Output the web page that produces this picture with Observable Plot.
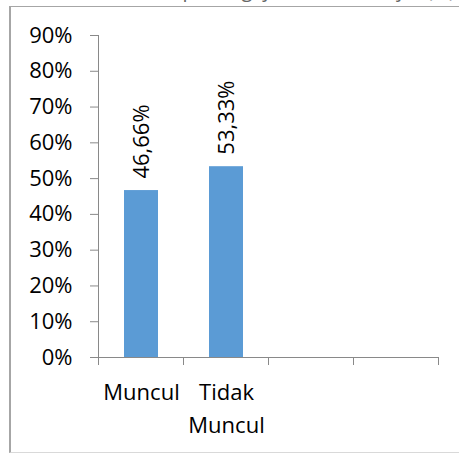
<!DOCTYPE html>
<html><head><meta charset="utf-8">
<script src="https://cdn.jsdelivr.net/npm/d3@7"></script>
<script src="https://cdn.jsdelivr.net/npm/@observablehq/plot@0.6"></script>
<style>
html,body{margin:0;padding:0;background:#fff;}
#wrap{position:relative;width:459px;height:455px;overflow:hidden;}
#chart{position:absolute;left:0;top:0;}
#frame{position:absolute;left:9px;top:6px;width:470px;height:447px;border-top:1px solid #a6a6a6;border-left:2px solid #a6a6a6;border-bottom:1px solid #d9d9d9;box-sizing:border-box;pointer-events:none;}
#title{position:absolute;right:4px;top:-24px;text-align:right;font:20px "Open Sans",sans-serif;color:#666;white-space:nowrap;}
</style></head><body>
<div id="wrap"><div id="title">Kemunculan Sikap Mengajar, Minat Belajar (%)</div><div id="chart"></div><div id="frame"></div></div>
<script>
const categories = ["Muncul", "Tidak Muncul", "", " "];
const values = [0.4666, 0.5333];
const valueLabels = ["46,66%", "53,33%"];
const yTicks = [0, 0.1, 0.2, 0.3, 0.4, 0.5, 0.6, 0.7, 0.8, 0.9];

const data = values.map((v, i) => ({category: categories[i], value: v, label: valueLabels[i]}));
const axisColor = "#898989";
const font = "'Open Sans', sans-serif";

function boundaryTicks(index, scales) {
  const x = scales.x, y = scales.y;
  const off = (x.step() - x.bandwidth()) / 2;
  const xs = categories.map(c => x(c) - off);
  xs.push(x(categories[categories.length - 1]) + x.bandwidth() + off);
  const y0 = y(0);
  const g = d3.create("svg:g").attr("stroke", axisColor).attr("stroke-width", 1);
  g.selectAll("line").data(xs).join("line")
    .attr("x1", d => d).attr("x2", d => d)
    .attr("y1", y0).attr("y2", y0 + 8);
  return g.node();
}

const plot = Plot.plot({
  width: 459,
  height: 455,
  marginLeft: 98,
  marginRight: 20,
  marginTop: 35,
  marginBottom: 98,
  style: {fontFamily: font, fontSize: "22px", background: "transparent", color: "#000", overflow: "visible"},
  x: {domain: categories, paddingInner: 0.6, paddingOuter: 0.3, label: null},
  y: {domain: [0, 0.9], label: null},
  marks: [
    Plot.barY(data, {x: "category", y: "value", fill: "#5B9BD5"}),
    Plot.ruleY([0], {stroke: axisColor}),
    Plot.frame({anchor: "left", stroke: axisColor}),
    boundaryTicks,
    Plot.axisY({ticks: yTicks, tickFormat: d3.format(".0%"), tickSize: 8, tickPadding: 18, stroke: axisColor, label: null, fontSize: 22}),
    Plot.axisX({tickSize: 0, tickPadding: 19, lineWidth: 4, lineHeight: 1.5, label: null, fontSize: 22}),
    Plot.text(data, {x: "category", y: "value", text: "label", rotate: -90, textAnchor: "start", dy: -12, fontSize: 22, fill: "#000"})
  ]
});
document.getElementById("chart").appendChild(plot);
</script>
</body></html>
